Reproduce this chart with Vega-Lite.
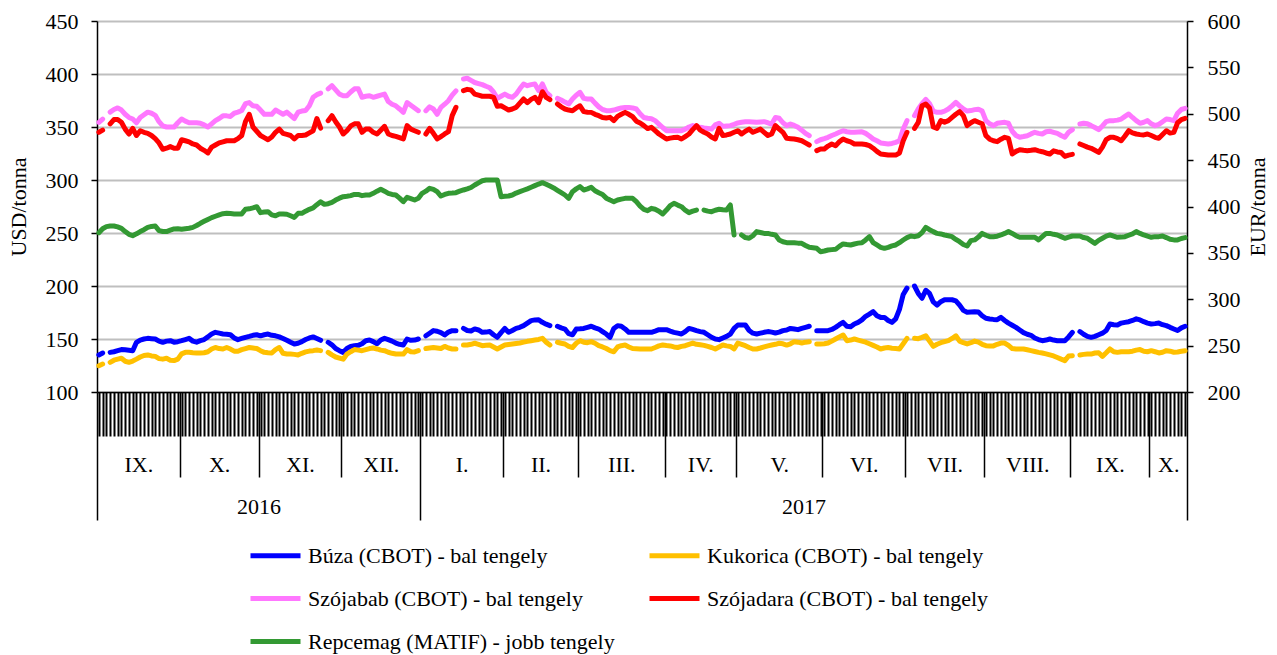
{
"$schema": "https://vega.github.io/schema/vega-lite/v6.json",
"width": 1090, "height": 371,
"autosize": {"type": "none"},
"padding": {"left": 97, "top": 21, "right": 90, "bottom": 263},
"background": "white",
"config": {
 "view": {"stroke": null},
 "axis": {"labelFont": "Liberation Serif", "titleFont": "Liberation Serif", "labelFontSize": 22, "titleFontSize": 22, "labelColor": "black", "titleColor": "black", "titleFontWeight": "normal", "domainColor": "black", "tickColor": "black"},
 "legend": {"labelFont": "Liberation Serif", "labelFontSize": 22, "labelColor": "black"}
},
"data": {"values": [
{"i":0,"b":135.0,"k":124.8,"s":354.4,"m":345.0,"r":371.8},
{"i":1,"b":136.8,"k":126.4,"s":357.5,"m":347.0,"r":376.0},
{"i":2,"b":null,"k":null,"s":null,"m":null,"r":378.3},
{"i":3,"b":137.4,"k":128.0,"s":364.0,"m":353.0,"r":379.0},
{"i":4,"b":138.0,"k":130.0,"s":366.5,"m":357.0,"r":379.0},
{"i":5,"b":139.0,"k":131.0,"s":368.0,"m":357.0,"r":378.0},
{"i":6,"b":140.0,"k":131.8,"s":366.0,"m":354.5,"r":376.5},
{"i":7,"b":139.8,"k":129.0,"s":362.0,"m":348.0,"r":373.0},
{"i":8,"b":139.4,"k":128.0,"s":359.0,"m":343.4,"r":370.0},
{"i":9,"b":139.0,"k":129.2,"s":357.5,"m":348.7,"r":368.6},
{"i":10,"b":146.9,"k":131.0,"s":354.0,"m":342.0,"r":370.5},
{"i":11,"b":149.0,"k":133.0,"s":359.0,"m":346.5,"r":373.0},
{"i":12,"b":150.0,"k":134.5,"s":361.5,"m":345.0,"r":375.0},
{"i":13,"b":150.6,"k":135.0,"s":364.0,"m":344.0,"r":377.5},
{"i":14,"b":150.3,"k":134.0,"s":363.0,"m":342.0,"r":378.5},
{"i":15,"b":150.0,"k":133.6,"s":361.0,"m":339.0,"r":379.0},
{"i":16,"b":148.0,"k":131.5,"s":355.0,"m":335.0,"r":374.0},
{"i":17,"b":146.9,"k":131.0,"s":351.0,"m":329.0,"r":373.0},
{"i":18,"b":148.0,"k":131.8,"s":350.0,"m":330.0,"r":373.0},
{"i":19,"b":148.4,"k":130.0,"s":350.0,"m":331.5,"r":374.5},
{"i":20,"b":147.0,"k":129.6,"s":350.0,"m":330.0,"r":375.8},
{"i":21,"b":147.5,"k":131.0,"s":354.0,"m":330.0,"r":376.0},
{"i":22,"b":148.4,"k":136.0,"s":357.5,"m":338.0,"r":375.4},
{"i":23,"b":149.5,"k":137.4,"s":355.5,"m":337.0,"r":376.0},
{"i":24,"b":150.6,"k":137.4,"s":354.0,"m":336.0,"r":376.5},
{"i":25,"b":148.0,"k":137.0,"s":354.0,"m":334.0,"r":377.5},
{"i":26,"b":147.0,"k":136.8,"s":354.0,"m":333.0,"r":379.5},
{"i":27,"b":148.4,"k":136.8,"s":353.5,"m":330.0,"r":381.9},
{"i":28,"b":149.5,"k":137.0,"s":352.0,"m":328.0,"r":384.0},
{"i":29,"b":152.0,"k":138.0,"s":350.0,"m":325.5,"r":386.0},
{"i":30,"b":154.7,"k":140.5,"s":353.0,"m":331.0,"r":388.0},
{"i":31,"b":156.3,"k":142.0,"s":356.0,"m":333.0,"r":389.5},
{"i":32,"b":155.5,"k":141.0,"s":358.0,"m":335.0,"r":391.0},
{"i":33,"b":154.7,"k":140.6,"s":360.5,"m":336.0,"r":392.3},
{"i":34,"b":154.5,"k":142.0,"s":360.5,"m":337.0,"r":392.6},
{"i":35,"b":154.0,"k":140.5,"s":360.0,"m":337.0,"r":392.4},
{"i":36,"b":151.0,"k":138.5,"s":363.0,"m":337.0,"r":392.0},
{"i":37,"b":149.4,"k":138.5,"s":364.0,"m":339.0,"r":392.0},
{"i":38,"b":150.5,"k":140.0,"s":365.5,"m":342.0,"r":392.0},
{"i":39,"b":151.6,"k":141.0,"s":372.0,"m":355.0,"r":397.0},
{"i":40,"b":152.5,"k":142.0,"s":373.0,"m":362.0,"r":397.5},
{"i":41,"b":153.5,"k":141.5,"s":370.0,"m":350.0,"r":398.5},
{"i":42,"b":154.0,"k":141.0,"s":369.5,"m":346.0,"r":399.8},
{"i":43,"b":153.0,"k":139.0,"s":366.0,"m":342.0,"r":393.4},
{"i":44,"b":154.0,"k":137.4,"s":362.0,"m":340.0,"r":394.0},
{"i":45,"b":154.7,"k":137.0,"s":362.0,"m":338.0,"r":394.4},
{"i":46,"b":153.5,"k":136.8,"s":362.0,"m":340.5,"r":391.0},
{"i":47,"b":153.0,"k":140.0,"s":366.0,"m":345.0,"r":390.0},
{"i":48,"b":152.0,"k":142.0,"s":364.0,"m":348.0,"r":392.0},
{"i":49,"b":150.5,"k":136.5,"s":362.0,"m":344.0,"r":392.0},
{"i":50,"b":148.8,"k":135.8,"s":364.0,"m":343.0,"r":391.6},
{"i":51,"b":147.0,"k":135.8,"s":361.0,"m":342.0,"r":390.0},
{"i":52,"b":145.3,"k":135.5,"s":358.0,"m":338.7,"r":388.3},
{"i":53,"b":146.0,"k":135.0,"s":364.0,"m":342.0,"r":392.6},
{"i":54,"b":147.5,"k":136.5,"s":365.0,"m":342.0,"r":392.6},
{"i":55,"b":149.5,"k":137.8,"s":365.5,"m":342.5,"r":395.0},
{"i":56,"b":151.0,"k":138.6,"s":370.0,"m":344.5,"r":397.0},
{"i":57,"b":152.0,"k":139.0,"s":378.0,"m":346.5,"r":398.5},
{"i":58,"b":150.5,"k":139.6,"s":380.5,"m":358.0,"r":402.0},
{"i":59,"b":148.8,"k":139.0,"s":382.0,"m":349.0,"r":405.0},
{"i":60,"b":null,"k":null,"s":null,"m":null,"r":402.3},
{"i":61,"b":146.9,"k":137.4,"s":386.0,"m":356.0,"r":403.0},
{"i":62,"b":144.5,"k":135.0,"s":389.0,"m":360.7,"r":404.5},
{"i":63,"b":141.0,"k":133.0,"s":385.0,"m":355.0,"r":407.0},
{"i":64,"b":139.0,"k":132.0,"s":381.0,"m":350.0,"r":409.0},
{"i":65,"b":137.4,"k":131.0,"s":379.5,"m":343.4,"r":410.6},
{"i":66,"b":141.0,"k":135.8,"s":379.5,"m":346.5,"r":411.0},
{"i":67,"b":143.0,"k":138.0,"s":383.0,"m":351.0,"r":411.7},
{"i":68,"b":143.7,"k":140.0,"s":386.0,"m":353.0,"r":413.0},
{"i":69,"b":144.0,"k":139.5,"s":386.0,"m":353.0,"r":413.0},
{"i":70,"b":145.5,"k":139.0,"s":378.0,"m":345.0,"r":411.7},
{"i":71,"b":148.4,"k":140.0,"s":379.0,"m":348.0,"r":412.4},
{"i":72,"b":149.0,"k":141.0,"s":379.5,"m":348.0,"r":412.4},
{"i":73,"b":147.5,"k":141.5,"s":378.0,"m":345.0,"r":414.2},
{"i":74,"b":145.5,"k":140.6,"s":379.0,"m":343.4,"r":416.5},
{"i":75,"b":149.0,"k":139.5,"s":380.0,"m":347.0,"r":418.5},
{"i":76,"b":150.6,"k":139.0,"s":381.0,"m":350.6,"r":416.5},
{"i":77,"b":149.4,"k":137.5,"s":374.0,"m":343.4,"r":414.2},
{"i":78,"b":148.0,"k":136.5,"s":371.5,"m":342.0,"r":413.0},
{"i":79,"b":146.2,"k":135.8,"s":370.0,"m":341.2,"r":412.4},
{"i":80,"b":145.0,"k":135.8,"s":367.0,"m":340.0,"r":409.0},
{"i":81,"b":144.3,"k":135.8,"s":363.8,"m":338.7,"r":405.2},
{"i":82,"b":150.0,"k":140.0,"s":373.0,"m":351.3,"r":409.9},
{"i":83,"b":148.8,"k":138.0,"s":370.5,"m":348.0,"r":408.5},
{"i":84,"b":149.0,"k":137.8,"s":368.0,"m":346.5,"r":407.0},
{"i":85,"b":150.0,"k":139.0,"s":365.4,"m":345.0,"r":408.8},
{"i":86,"b":null,"k":null,"s":null,"m":null,"r":414.2},
{"i":87,"b":153.0,"k":141.0,"s":365.4,"m":343.4,"r":416.5},
{"i":88,"b":155.5,"k":141.5,"s":369.0,"m":348.7,"r":419.6},
{"i":89,"b":157.9,"k":142.0,"s":367.0,"m":344.0,"r":418.5},
{"i":90,"b":157.3,"k":141.5,"s":362.0,"m":338.7,"r":416.0},
{"i":91,"b":156.0,"k":141.0,"s":368.5,"m":341.0,"r":411.3},
{"i":92,"b":153.8,"k":143.0,"s":371.5,"m":343.4,"r":413.0},
{"i":93,"b":156.5,"k":141.5,"s":374.8,"m":345.6,"r":414.2},
{"i":94,"b":157.9,"k":140.6,"s":380.0,"m":360.7,"r":414.5},
{"i":95,"b":157.9,"k":140.6,"s":384.0,"m":368.5,"r":414.9},
{"i":96,"b":null,"k":null,"s":null,"m":null,"r":416.5},
{"i":97,"b":160.0,"k":144.3,"s":395.3,"m":384.3,"r":417.8},
{"i":98,"b":158.0,"k":144.3,"s":396.0,"m":385.5,"r":419.0},
{"i":99,"b":157.5,"k":145.0,"s":394.0,"m":385.0,"r":420.5},
{"i":100,"b":159.5,"k":146.0,"s":392.0,"m":381.0,"r":423.2},
{"i":101,"b":158.5,"k":145.0,"s":391.0,"m":380.0,"r":425.5},
{"i":102,"b":156.3,"k":143.7,"s":390.0,"m":379.0,"r":427.8},
{"i":103,"b":156.5,"k":144.0,"s":388.4,"m":379.0,"r":428.5},
{"i":104,"b":157.0,"k":144.3,"s":387.0,"m":379.0,"r":428.5},
{"i":105,"b":154.0,"k":142.5,"s":383.0,"m":378.0,"r":428.5},
{"i":106,"b":151.6,"k":140.6,"s":377.0,"m":369.5,"r":428.5},
{"i":107,"b":156.0,"k":142.5,"s":379.0,"m":370.0,"r":410.6},
{"i":108,"b":160.0,"k":144.3,"s":381.0,"m":368.0,"r":411.0},
{"i":109,"b":156.3,"k":144.8,"s":379.0,"m":366.0,"r":411.3},
{"i":110,"b":158.0,"k":145.3,"s":378.0,"m":367.0,"r":412.4},
{"i":111,"b":160.0,"k":145.8,"s":381.0,"m":368.5,"r":414.5},
{"i":112,"b":161.0,"k":146.2,"s":386.0,"m":372.5,"r":416.0},
{"i":113,"b":162.6,"k":147.0,"s":390.6,"m":376.4,"r":417.5},
{"i":114,"b":165.0,"k":147.8,"s":389.0,"m":373.0,"r":419.0},
{"i":115,"b":167.3,"k":148.4,"s":390.0,"m":376.0,"r":420.7},
{"i":116,"b":168.0,"k":149.0,"s":390.6,"m":378.0,"r":422.5},
{"i":117,"b":168.2,"k":149.6,"s":384.3,"m":373.0,"r":424.2},
{"i":118,"b":165.7,"k":150.6,"s":390.6,"m":383.3,"r":425.7},
{"i":119,"b":164.0,"k":147.0,"s":382.7,"m":378.0,"r":424.0},
{"i":120,"b":162.6,"k":144.3,"s":379.6,"m":375.8,"r":422.0},
{"i":121,"b":null,"k":null,"s":null,"m":null,"r":420.0},
{"i":122,"b":162.0,"k":146.9,"s":377.0,"m":371.7,"r":417.5},
{"i":123,"b":160.5,"k":146.0,"s":375.5,"m":369.0,"r":415.0},
{"i":124,"b":159.4,"k":145.3,"s":373.5,"m":367.0,"r":412.4},
{"i":125,"b":155.0,"k":143.0,"s":371.7,"m":366.0,"r":408.8},
{"i":126,"b":154.0,"k":142.0,"s":376.4,"m":365.4,"r":416.0},
{"i":127,"b":159.4,"k":146.0,"s":380.0,"m":368.0,"r":419.0},
{"i":128,"b":159.6,"k":148.4,"s":382.7,"m":370.0,"r":421.4},
{"i":129,"b":160.0,"k":147.0,"s":377.0,"m":364.5,"r":417.8},
{"i":130,"b":161.0,"k":146.5,"s":376.5,"m":364.0,"r":419.0},
{"i":131,"b":162.0,"k":147.5,"s":376.4,"m":363.8,"r":420.7},
{"i":132,"b":160.5,"k":146.0,"s":372.5,"m":362.0,"r":417.0},
{"i":133,"b":159.4,"k":143.7,"s":369.0,"m":360.7,"r":414.9},
{"i":134,"b":157.0,"k":142.5,"s":366.5,"m":359.0,"r":413.0},
{"i":135,"b":154.7,"k":141.0,"s":365.4,"m":358.5,"r":409.0},
{"i":136,"b":151.6,"k":139.0,"s":365.4,"m":359.1,"r":407.0},
{"i":137,"b":160.0,"k":138.0,"s":366.0,"m":356.0,"r":405.2},
{"i":138,"b":162.6,"k":142.5,"s":367.0,"m":360.0,"r":407.0},
{"i":139,"b":162.0,"k":143.7,"s":368.0,"m":362.0,"r":408.0},
{"i":140,"b":159.5,"k":144.3,"s":368.5,"m":363.8,"r":408.8},
{"i":141,"b":156.3,"k":142.5,"s":368.5,"m":362.0,"r":408.8},
{"i":142,"b":156.3,"k":141.0,"s":368.0,"m":359.7,"r":408.8},
{"i":143,"b":156.3,"k":140.8,"s":367.0,"m":355.5,"r":405.2},
{"i":144,"b":156.3,"k":140.6,"s":362.5,"m":353.8,"r":400.5},
{"i":145,"b":156.3,"k":140.6,"s":359.0,"m":351.3,"r":397.0},
{"i":146,"b":156.3,"k":140.6,"s":358.2,"m":348.5,"r":395.5},
{"i":147,"b":156.3,"k":140.6,"s":357.8,"m":349.7,"r":398.0},
{"i":148,"b":157.5,"k":142.0,"s":356.0,"m":346.5,"r":397.0},
{"i":149,"b":158.8,"k":143.5,"s":352.8,"m":343.4,"r":395.0},
{"i":150,"b":158.8,"k":144.3,"s":349.5,"m":341.0,"r":392.0},
{"i":151,"b":158.8,"k":143.8,"s":346.5,"m":338.7,"r":396.2},
{"i":152,"b":157.5,"k":143.5,"s":346.5,"m":339.5,"r":401.0},
{"i":153,"b":156.3,"k":142.5,"s":346.5,"m":340.0,"r":403.4},
{"i":154,"b":155.5,"k":142.0,"s":346.5,"m":340.3,"r":401.5},
{"i":155,"b":154.7,"k":143.0,"s":346.5,"m":338.7,"r":399.8},
{"i":156,"b":157.0,"k":143.7,"s":348.0,"m":341.0,"r":396.0},
{"i":157,"b":160.0,"k":145.0,"s":350.0,"m":343.4,"r":393.4},
{"i":158,"b":159.0,"k":146.2,"s":351.3,"m":347.5,"r":395.0},
{"i":159,"b":157.9,"k":145.0,"s":350.5,"m":351.3,"r":396.2},
{"i":160,"b":157.0,"k":144.5,"s":349.7,"m":347.0,"r":null},
{"i":161,"b":156.3,"k":144.0,"s":349.0,"m":345.0,"r":396.2},
{"i":162,"b":154.0,"k":143.0,"s":348.5,"m":343.4,"r":395.0},
{"i":163,"b":151.6,"k":142.0,"s":348.0,"m":340.5,"r":394.4},
{"i":164,"b":150.0,"k":140.6,"s":352.0,"m":338.7,"r":396.0},
{"i":165,"b":149.4,"k":142.5,"s":353.5,"m":348.7,"r":397.0},
{"i":166,"b":151.0,"k":144.3,"s":350.6,"m":342.0,"r":396.5},
{"i":167,"b":152.5,"k":143.5,"s":351.0,"m":342.5,"r":396.2},
{"i":168,"b":154.7,"k":143.0,"s":351.3,"m":343.4,"r":401.6},
{"i":169,"b":160.0,"k":140.6,"s":352.5,"m":345.0,"r":369.3},
{"i":170,"b":163.2,"k":146.2,"s":353.8,"m":346.5,"r":null},
{"i":171,"b":163.2,"k":145.0,"s":354.5,"m":343.4,"r":369.3},
{"i":172,"b":163.2,"k":143.7,"s":355.0,"m":346.0,"r":366.5},
{"i":173,"b":158.0,"k":142.0,"s":355.0,"m":348.0,"r":365.7},
{"i":174,"b":155.5,"k":140.6,"s":354.8,"m":345.0,"r":368.5},
{"i":175,"b":154.7,"k":140.6,"s":354.4,"m":346.5,"r":372.9},
{"i":176,"b":155.5,"k":141.5,"s":354.8,"m":348.0,"r":372.0},
{"i":177,"b":156.3,"k":142.5,"s":355.0,"m":345.0,"r":371.0},
{"i":178,"b":157.0,"k":143.5,"s":354.0,"m":342.0,"r":371.0},
{"i":179,"b":156.5,"k":144.3,"s":352.8,"m":343.4,"r":370.0},
{"i":180,"b":155.7,"k":145.0,"s":359.0,"m":351.3,"r":369.3},
{"i":181,"b":156.5,"k":146.0,"s":358.2,"m":348.0,"r":363.9},
{"i":182,"b":157.9,"k":145.5,"s":354.0,"m":345.0,"r":362.0},
{"i":183,"b":158.5,"k":144.3,"s":351.3,"m":339.3,"r":361.0},
{"i":184,"b":160.0,"k":145.5,"s":352.8,"m":339.0,"r":361.0},
{"i":185,"b":159.5,"k":147.5,"s":351.5,"m":338.7,"r":361.0},
{"i":186,"b":158.8,"k":147.0,"s":349.7,"m":338.0,"r":360.5},
{"i":187,"b":160.0,"k":146.2,"s":347.0,"m":337.0,"r":360.3},
{"i":188,"b":161.0,"k":147.0,"s":344.0,"m":335.0,"r":358.0},
{"i":189,"b":162.0,"k":147.5,"s":341.8,"m":333.0,"r":356.0},
{"i":190,"b":null,"k":null,"s":null,"m":null,"r":355.5},
{"i":191,"b":157.9,"k":145.3,"s":336.2,"m":327.7,"r":354.9},
{"i":192,"b":157.9,"k":145.3,"s":338.0,"m":329.2,"r":351.3},
{"i":193,"b":157.9,"k":145.5,"s":339.0,"m":329.2,"r":352.0},
{"i":194,"b":157.9,"k":146.2,"s":340.3,"m":332.0,"r":353.1},
{"i":195,"b":159.0,"k":148.0,"s":342.0,"m":334.0,"r":353.5},
{"i":196,"b":161.0,"k":150.0,"s":343.4,"m":332.4,"r":353.8},
{"i":197,"b":163.5,"k":152.0,"s":345.0,"m":336.0,"r":357.0},
{"i":198,"b":165.7,"k":153.8,"s":346.5,"m":338.7,"r":359.6},
{"i":199,"b":162.0,"k":148.4,"s":345.5,"m":337.0,"r":359.0},
{"i":200,"b":161.5,"k":149.0,"s":345.0,"m":336.0,"r":358.5},
{"i":201,"b":164.2,"k":150.0,"s":345.0,"m":334.0,"r":359.6},
{"i":202,"b":165.7,"k":149.0,"s":345.3,"m":334.0,"r":360.5},
{"i":203,"b":168.0,"k":148.0,"s":345.6,"m":334.0,"r":361.0},
{"i":204,"b":171.4,"k":147.0,"s":344.0,"m":333.5,"r":364.0},
{"i":205,"b":173.5,"k":145.5,"s":341.5,"m":332.4,"r":367.5},
{"i":206,"b":175.8,"k":144.0,"s":338.7,"m":330.0,"r":361.0},
{"i":207,"b":172.0,"k":142.5,"s":337.0,"m":327.0,"r":358.5},
{"i":208,"b":170.4,"k":140.6,"s":335.0,"m":324.5,"r":356.0},
{"i":209,"b":170.4,"k":141.5,"s":334.5,"m":324.0,"r":354.9},
{"i":210,"b":167.5,"k":142.0,"s":334.0,"m":323.5,"r":356.0},
{"i":211,"b":165.7,"k":141.3,"s":334.5,"m":323.5,"r":357.5},
{"i":212,"b":168.9,"k":141.0,"s":335.5,"m":323.5,"r":358.5},
{"i":213,"b":178.0,"k":140.6,"s":337.0,"m":325.5,"r":361.0},
{"i":214,"b":192.0,"k":145.5,"s":348.0,"m":337.0,"r":363.9},
{"i":215,"b":198.0,"k":150.6,"s":356.0,"m":345.0,"r":366.5},
{"i":216,"b":null,"k":null,"s":null,"m":null,"r":368.2},
{"i":217,"b":200.0,"k":150.6,"s":360.7,"m":348.7,"r":367.5},
{"i":218,"b":193.0,"k":150.3,"s":367.0,"m":354.4,"r":368.5},
{"i":219,"b":188.4,"k":151.5,"s":372.0,"m":370.0,"r":371.8},
{"i":220,"b":196.0,"k":153.0,"s":376.0,"m":371.7,"r":377.5},
{"i":221,"b":193.0,"k":148.0,"s":372.0,"m":368.0,"r":375.0},
{"i":222,"b":185.0,"k":143.0,"s":365.0,"m":350.0,"r":372.9},
{"i":223,"b":182.0,"k":145.0,"s":363.8,"m":348.7,"r":371.0},
{"i":224,"b":185.2,"k":146.5,"s":363.8,"m":356.0,"r":370.4},
{"i":225,"b":187.0,"k":147.5,"s":365.0,"m":354.4,"r":369.3},
{"i":226,"b":187.0,"k":148.4,"s":367.0,"m":356.0,"r":368.5},
{"i":227,"b":187.0,"k":150.5,"s":370.0,"m":359.0,"r":367.5},
{"i":228,"b":186.0,"k":153.0,"s":373.3,"m":362.0,"r":364.5},
{"i":229,"b":182.0,"k":148.0,"s":370.0,"m":364.5,"r":362.0},
{"i":230,"b":177.0,"k":146.5,"s":367.0,"m":360.7,"r":359.0},
{"i":231,"b":175.2,"k":145.3,"s":365.0,"m":351.3,"r":357.4},
{"i":232,"b":175.5,"k":146.5,"s":365.5,"m":354.0,"r":363.2},
{"i":233,"b":175.8,"k":148.0,"s":366.4,"m":356.0,"r":364.0},
{"i":234,"b":175.5,"k":147.0,"s":366.8,"m":354.5,"r":367.0},
{"i":235,"b":172.0,"k":145.0,"s":365.0,"m":353.0,"r":371.0},
{"i":236,"b":169.5,"k":143.7,"s":356.0,"m":341.8,"r":369.0},
{"i":237,"b":168.9,"k":143.3,"s":353.0,"m":338.5,"r":367.5},
{"i":238,"b":168.5,"k":143.5,"s":351.3,"m":337.0,"r":367.5},
{"i":239,"b":168.2,"k":145.0,"s":353.5,"m":336.2,"r":368.0},
{"i":240,"b":170.4,"k":146.2,"s":354.0,"m":338.5,"r":369.3},
{"i":241,"b":167.5,"k":146.2,"s":354.4,"m":340.3,"r":371.0},
{"i":242,"b":165.0,"k":144.0,"s":353.5,"m":339.3,"r":372.9},
{"i":243,"b":163.0,"k":141.0,"s":346.0,"m":324.5,"r":371.0},
{"i":244,"b":161.0,"k":140.6,"s":342.0,"m":327.0,"r":368.5},
{"i":245,"b":158.5,"k":140.6,"s":340.3,"m":328.6,"r":366.8},
{"i":246,"b":156.0,"k":140.6,"s":341.0,"m":328.0,"r":366.8},
{"i":247,"b":154.5,"k":139.8,"s":341.8,"m":327.7,"r":366.8},
{"i":248,"b":153.5,"k":139.0,"s":343.5,"m":328.0,"r":366.8},
{"i":249,"b":151.0,"k":138.2,"s":345.0,"m":328.6,"r":366.8},
{"i":250,"b":149.5,"k":137.4,"s":344.0,"m":327.5,"r":364.0},
{"i":251,"b":148.4,"k":136.8,"s":343.4,"m":326.7,"r":367.5},
{"i":252,"b":149.0,"k":136.0,"s":345.5,"m":325.5,"r":371.0},
{"i":253,"b":150.0,"k":135.0,"s":346.0,"m":324.5,"r":371.0},
{"i":254,"b":149.0,"k":134.0,"s":345.0,"m":327.5,"r":370.0},
{"i":255,"b":148.4,"k":132.5,"s":344.0,"m":326.5,"r":369.3},
{"i":256,"b":148.4,"k":131.0,"s":342.0,"m":326.0,"r":367.5},
{"i":257,"b":148.4,"k":129.6,"s":340.3,"m":322.3,"r":365.7},
{"i":258,"b":152.0,"k":134.0,"s":345.0,"m":323.5,"r":367.0},
{"i":259,"b":156.3,"k":134.3,"s":347.5,"m":324.2,"r":368.2},
{"i":260,"b":null,"k":null,"s":null,"m":null,"r":368.2},
{"i":261,"b":157.0,"k":135.0,"s":352.8,"m":334.0,"r":368.2},
{"i":262,"b":154.5,"k":135.5,"s":353.5,"m":332.5,"r":366.5},
{"i":263,"b":152.5,"k":135.8,"s":353.0,"m":331.0,"r":365.7},
{"i":264,"b":151.6,"k":135.8,"s":351.3,"m":329.9,"r":363.0},
{"i":265,"b":152.5,"k":136.8,"s":349.5,"m":328.0,"r":360.3},
{"i":266,"b":154.0,"k":137.0,"s":347.5,"m":326.0,"r":363.5},
{"i":267,"b":155.5,"k":133.6,"s":351.0,"m":331.0,"r":365.7},
{"i":268,"b":158.0,"k":137.0,"s":355.0,"m":338.0,"r":368.0},
{"i":269,"b":164.2,"k":140.6,"s":356.0,"m":340.3,"r":369.3},
{"i":270,"b":163.5,"k":138.0,"s":356.0,"m":340.3,"r":368.0},
{"i":271,"b":163.2,"k":137.4,"s":356.5,"m":339.0,"r":366.8},
{"i":272,"b":165.0,"k":138.0,"s":357.5,"m":337.0,"r":367.0},
{"i":273,"b":165.7,"k":138.0,"s":360.0,"m":341.5,"r":367.5},
{"i":274,"b":166.3,"k":138.0,"s":362.3,"m":346.5,"r":369.0},
{"i":275,"b":167.5,"k":138.5,"s":359.0,"m":344.5,"r":370.4},
{"i":276,"b":169.0,"k":139.5,"s":356.0,"m":343.4,"r":372.9},
{"i":277,"b":168.0,"k":140.0,"s":353.5,"m":342.8,"r":371.0},
{"i":278,"b":166.3,"k":138.5,"s":354.5,"m":342.5,"r":369.3},
{"i":279,"b":165.0,"k":138.0,"s":356.0,"m":343.4,"r":368.0},
{"i":280,"b":164.2,"k":139.0,"s":353.0,"m":342.0,"r":366.8},
{"i":281,"b":164.5,"k":138.0,"s":351.3,"m":340.3,"r":367.5},
{"i":282,"b":165.0,"k":136.8,"s":352.5,"m":339.3,"r":367.5},
{"i":283,"b":163.5,"k":137.5,"s":355.0,"m":343.0,"r":368.2},
{"i":284,"b":162.6,"k":139.0,"s":357.5,"m":346.5,"r":366.5},
{"i":285,"b":161.0,"k":138.5,"s":357.0,"m":344.3,"r":364.6},
{"i":286,"b":159.5,"k":137.5,"s":356.0,"m":345.0,"r":364.0},
{"i":287,"b":158.0,"k":137.8,"s":363.0,"m":354.0,"r":364.0},
{"i":288,"b":160.5,"k":138.5,"s":366.5,"m":357.0,"r":365.5},
{"i":289,"b":162.0,"k":139.0,"s":367.6,"m":358.2,"r":366.4}
]},
"layer": [
 {
  "mark": {"type": "line", "strokeWidth": 5, "strokeCap": "round", "strokeJoin": "round"},
  "encoding": {
   "x": {"field": "i", "type": "quantitative", "scale": {"domain": [-0.5, 289.5], "nice": false, "zero": false},
         "axis": {"orient": "bottom", "title": null, "labels": false, "grid": false, "tickCount": 290, "tickSize": 44, "tickWidth": 2, "domainWidth": 1.5}},
   "y": {"field": "b", "type": "quantitative", "scale": {"domain": [100, 450], "nice": false, "zero": false},
         "axis": {"orient": "left", "values": [100,150,200,250,300,350,400,450], "grid": true, "gridColor": "#bfbfbf", "gridWidth": 2, "tickSize": 6, "tickWidth": 1.5, "labelPadding": 13, "domainWidth": 1.5, "title": "USD/tonna", "titleAngle": 270, "titleX": -79, "titleY": 185.5, "titleAlign": "center", "titleBaseline": "middle"}},
   "color": {"datum": "Búza (CBOT) - bal tengely", "type": "nominal",
     "scale": {"domain": ["Búza (CBOT) - bal tengely", "Kukorica (CBOT) - bal tengely", "Szójabab (CBOT) - bal tengely", "Szójadara (CBOT) - bal tengely", "Repcemag (MATIF) - jobb tengely"], "range": ["#0000ff", "#ffc000", "#ff77ff", "#ff0000", "#339933"]},
     "legend": {"orient": "none", "legendX": 151, "legendY": 507, "columns": 2, "direction": "horizontal", "title": null, "symbolType": "stroke", "symbolSize": 2500, "symbolStrokeWidth": 5, "labelOffset": 5, "columnPadding": 24, "rowPadding": 4, "labelLimit": 0, "padding": 0}}
  }
 },
 {
  "mark": {"type": "line", "strokeWidth": 5, "strokeCap": "round", "strokeJoin": "round"},
  "encoding": {
   "x": {"field": "i", "type": "quantitative", "scale": {"domain": [-0.5, 289.5], "nice": false, "zero": false},
         "axis": {"orient": "bottom", "title": null, "labels": false, "grid": false, "domain": false, "values": [21.5,42.5,64.5,107.5,127.5,150.5,169.5,192.5,214.5,235.5,258.5,279.5], "tickSize": 85, "tickWidth": 1.5}},
   "y": {"field": "k", "type": "quantitative", "scale": {"domain": [100, 450], "nice": false, "zero": false}, "axis": null},
   "color": {"datum": "Kukorica (CBOT) - bal tengely", "type": "nominal",
     "scale": {"domain": ["Búza (CBOT) - bal tengely", "Kukorica (CBOT) - bal tengely", "Szójabab (CBOT) - bal tengely", "Szójadara (CBOT) - bal tengely", "Repcemag (MATIF) - jobb tengely"], "range": ["#0000ff", "#ffc000", "#ff77ff", "#ff0000", "#339933"]}}
  }
 },
 {
  "mark": {"type": "line", "strokeWidth": 5, "strokeCap": "round", "strokeJoin": "round"},
  "encoding": {
   "x": {"field": "i", "type": "quantitative", "scale": {"domain": [-0.5, 289.5], "nice": false, "zero": false},
         "axis": {"orient": "bottom", "title": null, "labels": false, "grid": false, "domain": false, "values": [-0.5, 85.5, 289.5], "tickSize": 128, "tickWidth": 1.5}},
   "y": {"field": "s", "type": "quantitative", "scale": {"domain": [100, 450], "nice": false, "zero": false}, "axis": null},
   "color": {"datum": "Szójabab (CBOT) - bal tengely", "type": "nominal",
     "scale": {"domain": ["Búza (CBOT) - bal tengely", "Kukorica (CBOT) - bal tengely", "Szójabab (CBOT) - bal tengely", "Szójadara (CBOT) - bal tengely", "Repcemag (MATIF) - jobb tengely"], "range": ["#0000ff", "#ffc000", "#ff77ff", "#ff0000", "#339933"]}}
  }
 },
 {
  "mark": {"type": "line", "strokeWidth": 5, "strokeCap": "round", "strokeJoin": "round"},
  "encoding": {
   "x": {"field": "i", "type": "quantitative", "scale": {"domain": [-0.5, 289.5], "nice": false, "zero": false},
         "axis": {"orient": "bottom", "title": null, "grid": false, "domain": false, "ticks": false, "tickSize": 0, "values": [10.5,32,53.5,75,96.5,117.5,139,160,181,203.5,225,247,269,284.5], "labelPadding": 72, "labelBaseline": "middle", "labelAlign": "center", "labelOverlap": false, "labelFlush": false, "labelBound": false,
                  "labelExpr": "datum.value < 20 ? 'IX.' : datum.value < 40 ? 'X.' : datum.value < 60 ? 'XI.' : datum.value < 80 ? 'XII.' : datum.value < 100 ? 'I.' : datum.value < 120 ? 'II.' : datum.value < 145 ? 'III.' : datum.value < 170 ? 'IV.' : datum.value < 190 ? 'V.' : datum.value < 210 ? 'VI.' : datum.value < 230 ? 'VII.' : datum.value < 255 ? 'VIII.' : datum.value < 275 ? 'IX.' : 'X.'"}},
   "y": {"field": "m", "type": "quantitative", "scale": {"domain": [100, 450], "nice": false, "zero": false}, "axis": null},
   "color": {"datum": "Szójadara (CBOT) - bal tengely", "type": "nominal",
     "scale": {"domain": ["Búza (CBOT) - bal tengely", "Kukorica (CBOT) - bal tengely", "Szójabab (CBOT) - bal tengely", "Szójadara (CBOT) - bal tengely", "Repcemag (MATIF) - jobb tengely"], "range": ["#0000ff", "#ffc000", "#ff77ff", "#ff0000", "#339933"]}}
  }
 },
 {
  "mark": {"type": "line", "strokeWidth": 5, "strokeCap": "round", "strokeJoin": "round"},
  "encoding": {
   "x": {"field": "i", "type": "quantitative", "scale": {"domain": [-0.5, 289.5], "nice": false, "zero": false},
         "axis": {"orient": "bottom", "title": null, "grid": false, "domain": false, "ticks": false, "tickSize": 0, "values": [42.5, 187.5], "labelPadding": 114, "labelBaseline": "middle", "labelAlign": "center", "labelOverlap": false, "labelFlush": false, "labelBound": false,
                  "labelExpr": "datum.value < 100 ? '2016' : '2017'"}},
   "y": {"field": "r", "type": "quantitative", "scale": {"domain": [200, 600], "nice": false, "zero": false},
         "axis": {"orient": "right", "values": [200,250,300,350,400,450,500,550,600], "grid": false, "tickSize": 6, "tickWidth": 1.5, "labelPadding": 14, "domainWidth": 1.5, "title": "EUR/tonna", "titleAngle": 270, "titleX": 70, "titleY": 185.5, "titleAlign": "center", "titleBaseline": "middle"}},
   "color": {"datum": "Repcemag (MATIF) - jobb tengely", "type": "nominal",
     "scale": {"domain": ["Búza (CBOT) - bal tengely", "Kukorica (CBOT) - bal tengely", "Szójabab (CBOT) - bal tengely", "Szójadara (CBOT) - bal tengely", "Repcemag (MATIF) - jobb tengely"], "range": ["#0000ff", "#ffc000", "#ff77ff", "#ff0000", "#339933"]}}
  }
 }
],
"resolve": {"scale": {"x": "independent", "y": "independent"}}
}
